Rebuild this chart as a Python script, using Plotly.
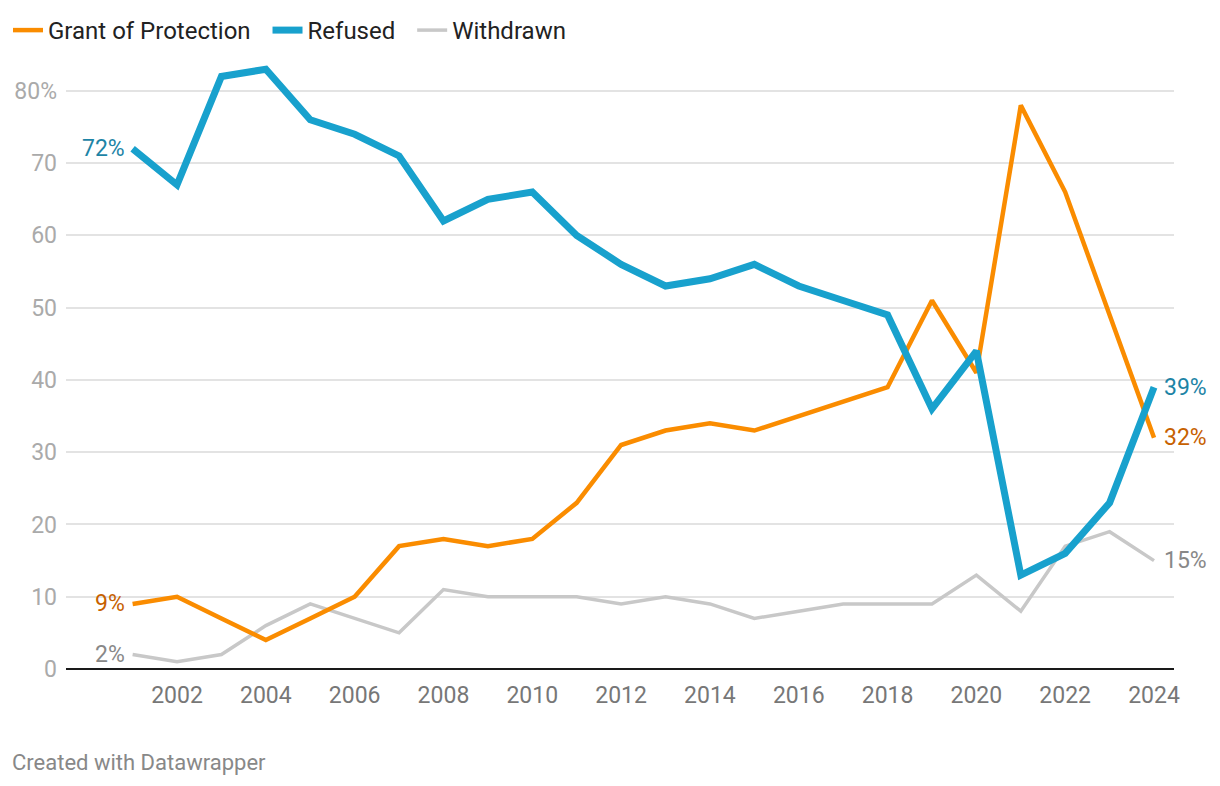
import plotly.graph_objects as go

years = list(range(2001, 2025))
grant = [9, 10, 7, 4, 7, 10, 17, 18, 17, 18, 23, 31, 33, 34, 33, 35, 37, 39, 51, 41, 78, 66, 49, 32]
refused = [72, 67, 82, 83, 76, 74, 71, 62, 65, 66, 60, 56, 53, 54, 56, 53, 51, 49, 36, 44, 13, 16, 23, 39]
withdrawn = [2, 1, 2, 6, 9, 7, 5, 11, 10, 10, 10, 9, 10, 9, 7, 8, 9, 9, 9, 13, 8, 17, 19, 15]

y_ticks = [0, 10, 20, 30, 40, 50, 60, 70, 80]
y_ticktext = ["0", "10", "20", "30", "40", "50", "60", "70", "80%"]
x_ticks = list(range(2002, 2025, 2))

series = [
    ("Grant of Protection", grant, "#fa8c00", 4.5, "#c76100"),
    ("Refused", refused, "#18a1cd", 7, "#1d84a6"),
    ("Withdrawn", withdrawn, "#c8c8c8", 3.5, "#888888"),
]
legend_pad = {"Grant of Protection": "\u00a0\u00a0", "Refused": "\u00a0\u00a0", "Withdrawn": ""}

traces = {}
for name, vals, col, w, _ in series:
    traces[name] = go.Scatter(x=years, y=vals, mode="lines", name=name + legend_pad[name],
                              line=dict(color=col, width=w), hoverinfo="skip")

fig = go.Figure()
fig.add_trace(traces["Withdrawn"].update(legendrank=3))
fig.add_trace(traces["Grant of Protection"].update(legendrank=1))
fig.add_trace(traces["Refused"].update(legendrank=2))

annotations = []
for name, vals, col, w, lc in series:
    annotations.append(dict(x=years[0], y=vals[0], xref="x", yref="y",
                            text=f"{vals[0]}%", showarrow=False, xanchor="right",
                            xshift=-6, font=dict(color=lc, size=23, family="Roboto")))
    annotations.append(dict(x=years[-1], y=vals[-1], xref="x", yref="y",
                            text=f"{vals[-1]}%", showarrow=False, xanchor="left",
                            xshift=8, font=dict(color=lc, size=23, family="Roboto")))
annotations.append(dict(x=0, y=0, xref="paper", yref="paper", xshift=-56, yshift=-93,
                        text="Created with Datawrapper",
                        showarrow=False, xanchor="left", yanchor="middle",
                        font=dict(color="#888888", size=22, family="Roboto")))

fig.update_layout(
    width=1220, height=786,
    margin=dict(l=58, r=54, t=54, b=125, autoexpand=False),
    paper_bgcolor="white", plot_bgcolor="white",
    font=dict(family="Roboto", size=23, color="#333"),
    showlegend=True,
    legend=dict(orientation="h", x=0, xref="container", xanchor="left",
                y=1, yref="container", yanchor="top",
                font=dict(size=24, color="#222", family="Roboto"), itemwidth=30,
                traceorder="normal", tracegroupgap=0),
    xaxis=dict(range=[1999.5, 2024.45], tickvals=x_ticks, showgrid=False, zeroline=False,
               showline=False, ticks="", tickfont=dict(color="#777", size=23),
               ticklabelstandoff=10, automargin=False),
    yaxis=dict(range=[0, 84], tickvals=y_ticks, ticktext=y_ticktext, showgrid=True,
               gridcolor="#e3e3e3", gridwidth=1.5, zeroline=True, zerolinecolor="#1a1a1a",
               zerolinewidth=2, ticks="", tickfont=dict(color="#aaaaaa", size=23),
               ticklabelstandoff=8, automargin=False),
    annotations=annotations,
)
fig.write_html("out.html")
